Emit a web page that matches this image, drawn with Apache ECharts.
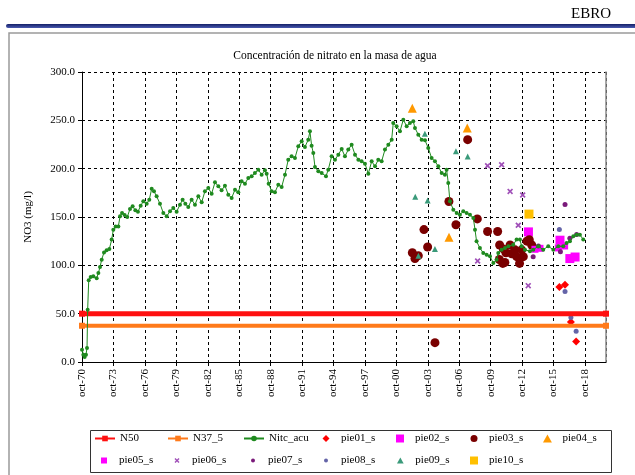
<!DOCTYPE html>
<html>
<head>
<meta charset="utf-8">
<title>Concentración de nitrato en la masa de agua</title>
<script src="https://cdn.jsdelivr.net/npm/echarts@6/dist/echarts.min.js"></script>
<style>
  html, body { margin: 0; padding: 0; background: #fff; }
  #chart { width: 635px; height: 475px; }
</style>
</head>
<body>
<div id="chart"></div>
<script>
// x en años decimales; el eje empieza en oct-70
const X0 = 1970.75;
const yTicks = [0, 50, 100, 150, 200, 250, 300];

// umbrales
const n50 = [[1970.75, 50], [2020.75, 50]];
const n37 = [[1970.75, 37.5], [2020.75, 37.5]];

// Nitc_acu (año, mg/l)
const nitcAcu = [
  [1970.75, 12.8], [1970.88, 7.6], [1971.0, 5.2], [1971.13, 7.6], [1971.23, 14.5],
  [1971.29, 54.1], [1971.39, 84.5], [1971.58, 87.9], [1971.83, 88.6], [1972.15, 86.6],
  [1972.31, 92], [1972.47, 98.3], [1972.63, 105.9], [1972.85, 113.4], [1973.1, 115.5],
  [1973.36, 116.9], [1973.58, 126.6], [1973.74, 136.9], [1973.96, 140.3], [1974.22, 140.3],
  [1974.38, 150.7], [1974.57, 154.1], [1974.82, 152.1], [1975.07, 150], [1975.33, 158.3],
  [1975.58, 161], [1975.84, 156.9], [1976.09, 155.5], [1976.35, 161.7], [1976.6, 166.2],
  [1976.92, 163.8], [1977.17, 167.9], [1977.4, 179.3], [1977.62, 176.6], [1977.87, 171.4],
  [1978.19, 163.8], [1978.51, 154.1], [1978.83, 150.7], [1979.15, 155.9], [1979.46, 159.3],
  [1979.78, 155.5], [1980.1, 162.8], [1980.35, 167.9], [1980.61, 163.8], [1980.89, 160.3],
  [1981.21, 167.9], [1981.53, 162.8], [1981.85, 171.4], [1982.17, 165.2], [1982.48, 176.6],
  [1982.8, 180], [1983.12, 174.1], [1983.44, 185.9], [1983.76, 181.7], [1984.07, 177.6],
  [1984.39, 182.4], [1984.71, 173.1], [1985.03, 169.7], [1985.35, 178.3], [1985.66, 175.5],
  [1985.98, 186.9], [1986.3, 184.5], [1986.62, 190.3], [1986.94, 192.1], [1987.25, 195.5],
  [1987.57, 199], [1987.89, 193.8], [1988.21, 198.3], [1988.37, 194.8], [1988.56, 184.5],
  [1988.85, 176.6], [1989.16, 175.5], [1989.48, 183.4], [1989.8, 181], [1990.12, 193.8],
  [1990.43, 209.3], [1990.75, 212.8], [1991.07, 211], [1991.39, 223.1], [1991.71, 228.3],
  [1992.02, 222.4], [1992.34, 230], [1992.5, 238.6], [1992.66, 223.8], [1992.82, 216.2],
  [1992.98, 201.7], [1993.3, 197.2], [1993.62, 195.5], [1994.03, 192.1], [1994.25, 199],
  [1994.57, 212.8], [1994.89, 209.3], [1995.21, 214.5], [1995.53, 220.3], [1995.84, 212.8],
  [1996.16, 219.7], [1996.48, 224.8], [1996.8, 214.5], [1997.12, 209.3], [1997.43, 207.6],
  [1997.75, 205.2], [1998.07, 194.8], [1998.39, 207.6], [1998.71, 202.4], [1999.02, 209.3],
  [1999.34, 207.6], [1999.66, 219.7], [1999.98, 224.8], [2000.3, 230], [2000.45, 247.2],
  [2000.77, 243.8], [2001.09, 238.6], [2001.41, 250.7], [2001.73, 243.8], [2002.04, 247.2],
  [2002.36, 249], [2002.52, 242.1], [2002.84, 235.2], [2003.16, 230], [2003.48, 229.3],
  [2003.79, 221.4], [2004.11, 211], [2004.43, 207.6], [2004.75, 202.4], [2005.07, 195.5],
  [2005.38, 193.8], [2005.54, 199], [2005.7, 185.2], [2005.86, 166.2], [2006.18, 157.6],
  [2006.5, 154.1], [2006.81, 152.4], [2007.13, 155.9], [2007.45, 154.1], [2007.77, 152.4],
  [2008.09, 149], [2008.25, 136.9], [2008.4, 124.8], [2008.72, 117.9], [2009.04, 112.8],
  [2009.36, 111], [2009.68, 109.3], [2010.0, 102.4], [2010.31, 105.9], [2010.47, 112.8],
  [2010.79, 116.2], [2011.11, 117.9], [2011.43, 119.7], [2011.9, 121.4], [2012.22, 126.6],
  [2012.54, 126.6], [2012.7, 119.7], [2013.02, 116.2], [2013.49, 114.5], [2013.81, 116.2],
  [2014.29, 119.7], [2014.76, 116.2], [2015.24, 119.7], [2015.72, 116.2], [2016.2, 119.7],
  [2016.67, 119.7], [2016.99, 123.1], [2017.31, 124.8], [2017.63, 130], [2017.94, 131.7],
  [2018.26, 131.7], [2018.58, 126.6]
];

// piezómetros
const pie01 = [[2016.3, 77.6], [2016.84, 80], [2017.4, 41.4], [2017.9, 21.3]];
const pie02 = [[2013.35, 134.6], [2016.36, 126], [2017.3, 107], [2017.8, 108.6]];
const pie03 = [
  [2002.27, 113], [2002.52, 107], [2002.84, 110], [2003.38, 137], [2003.73, 119],
  [2004.43, 20], [2005.76, 166], [2006.43, 142], [2007.55, 230], [2008.47, 148],
  [2009.45, 135], [2010.41, 135], [2010.6, 121], [2010.95, 117], [2011.2, 113],
  [2011.6, 121], [2011.75, 112], [2012.07, 116], [2012.23, 109], [2012.5, 102],
  [2012.7, 116], [2012.86, 109], [2013.43, 126.5], [2013.66, 121], [2010.9, 102],
  [2010.57, 106], [2011.1, 103], [2013.2, 125]
];
const pie04 = [[2002.27, 262.6], [2007.51, 242], [2005.77, 129]];
const pie05 = [[2013.97, 116.6], [2014.45, 117.6], [2016.2, 118], [2016.8, 120]];
const pie06 = [[2009.45, 203], [2010.79, 204], [2011.6, 176.5], [2012.8, 172.7], [2012.38, 141.5], [2008.5, 104.5], [2013.33, 79]];
const pie07 = [[2016.84, 163], [2014.3, 120], [2013.8, 109], [2017.3, 128], [2017.95, 132], [2016.4, 114]];
const pie08 = [[2016.3, 137], [2016.84, 73], [2017.4, 46], [2017.9, 31.7]];
const pie09 = [[2002.55, 171], [2003.73, 167], [2004.43, 117], [2006.43, 218], [2007.55, 212.5], [2003.47, 236], [2002.85, 110]];
const pie10 = [[2013.4, 153]];

const SERIF = '"Liberation Serif", "DejaVu Serif", serif';
const toX = arr => arr.map(p => [p[0] - X0, p[1]]);

// iconos
const SQUARE = 'path://M0,0H10V10H0Z';
const DIAMOND = 'path://M5,0L10,5L5,10L0,5Z';
const TRIANGLE = 'path://M5,0L10,9L0,9Z';
const XMARK = 'path://M0,2L2,0L5,3L8,0L10,2L7,5L10,8L8,10L5,7L2,10L0,8L3,5Z';

function scatter(name, data, symbol, size, color) {
  return {
    name: name, type: 'scatter', data: toX(data),
    symbol: symbol, symbolSize: size,
    itemStyle: { color: color, opacity: 1 }
  };
}

const chart = echarts.init(document.getElementById('chart'));

// leyenda: [nombre, columna, fila, icono, alto]
const legendItems = [
  ['N50', 0, 0, null, 7], ['N37_5', 1, 0, null, 7], ['Nitc_acu', 2, 0, null, 7],
  ['pie01_s', 3, 0, DIAMOND, 7], ['pie02_s', 4, 0, SQUARE, 8], ['pie03_s', 5, 0, 'circle', 7],
  ['pie04_s', 6, 0, TRIANGLE, 8],
  ['pie05_s', 0, 1, SQUARE, 6], ['pie06_s', 1, 1, XMARK, 5], ['pie07_s', 2, 1, 'circle', 4],
  ['pie08_s', 3, 1, 'circle', 4], ['pie09_s', 4, 1, TRIANGLE, 6], ['pie10_s', 5, 1, SQUARE, 8]
];
const colLeft = [94, 167, 243, 316, 390, 464, 537];
const rowTop = [433, 455];

const option = {
  backgroundColor: '#fff',
  animation: false,
  title: {
    text: 'Concentración de nitrato en la masa de agua',
    left: 330, top: 45, textAlign: 'center',
    textStyle: { fontFamily: SERIF, fontSize: 11.5, fontWeight: 'normal', color: '#000' }
  },
  graphic: [
    { type: 'text', right: 24, top: 7,
      style: { text: 'EBRO', font: '15px ' + SERIF, fill: '#000' } },
    { type: 'rect', shape: { x: 6, y: 24, width: 640, height: 4, r: 2 },
      style: { fill: new echarts.graphic.LinearGradient(0, 0, 0, 1,
        [{ offset: 0, color: '#141f66' }, { offset: 1, color: '#4a5ab0' }]) } },
    { type: 'rect', shape: { x: 9, y: 33, width: 700, height: 500 },
      style: { fill: 'none', stroke: '#9a9a9a', lineWidth: 1.5 } },
    { type: 'rect', shape: { x: 90.5, y: 430.5, width: 521, height: 42 },
      style: { fill: 'none', stroke: '#333', lineWidth: 1 } }
  ],
  legend: legendItems.map(it => ({
    data: [it[3] ? { name: it[0], icon: it[3] } : { name: it[0] }],
    left: it[3] ? colLeft[it[1]] + 10 - it[4] / 2 : colLeft[it[1]],
    top: rowTop[it[2]],
    itemWidth: 20, itemHeight: it[4], padding: 0,
    textStyle: { fontFamily: SERIF, fontSize: 11, color: '#000' }
  })),
  grid: { left: 82, right: 29, top: 72, bottom: 113, containLabel: false },
  xAxis: {
    type: 'value', min: 0, max: 50, interval: 3,
    axisLine: { lineStyle: { color: '#000', width: 1 } },
    axisTick: { length: 4, lineStyle: { color: '#000' } },
    axisLabel: {
      rotate: 90, margin: 7, showMaxLabel: false,
      fontFamily: SERIF, fontSize: 11, color: '#000',
      formatter: v => (v % 3 === 0 && v <= 48) ? 'oct-' + String((70 + v) % 100).padStart(2, '0') : ''
    },
    splitLine: { show: true, lineStyle: { color: '#000', type: [3, 3], width: 1 } }
  },
  yAxis: [{
    type: 'value', min: yTicks[0], max: yTicks[yTicks.length - 1], interval: 50,
    name: 'NO3 (mg/l)', nameLocation: 'middle', nameGap: 48,
    nameTextStyle: { fontFamily: SERIF, fontSize: 11, color: '#000' },
    axisLine: { show: true, lineStyle: { color: '#000', width: 1 } },
    axisTick: { show: true, length: 4, lineStyle: { color: '#000' } },
    axisLabel: { margin: 7, fontFamily: SERIF, fontSize: 11, color: '#000', formatter: v => v.toFixed(1) },
    splitLine: { show: true, lineStyle: { color: '#000', type: [3, 3], width: 1 } }
  }, {
    type: 'value', min: 0, max: 300, position: 'right',
    axisLine: { show: true, lineStyle: { color: '#8a8a8a', width: 1.5 } },
    axisTick: { show: false }, axisLabel: { show: false }, splitLine: { show: false }
  }],
  series: [
    { name: 'N50', type: 'line', data: toX(n50), symbol: 'rect', symbolSize: 6,
      lineStyle: { color: '#ff1010', width: 5 }, itemStyle: { color: '#ff1010' }, z: 3 },
    { name: 'N37_5', type: 'line', data: toX(n37), symbol: 'rect', symbolSize: 6,
      lineStyle: { color: '#ff7a1a', width: 4 }, itemStyle: { color: '#ff7a1a' }, z: 3 },
    { name: 'Nitc_acu', type: 'line', data: toX(nitcAcu), symbol: 'circle', symbolSize: 4,
      showAllSymbol: true,
      lineStyle: { color: '#1f8a1f', width: 1 }, itemStyle: { color: '#1f8a1f' }, z: 4 },
    scatter('pie01_s', pie01, 'diamond', 8, '#ff0000'),
    scatter('pie02_s', pie02, 'rect', 9, '#ff00ff'),
    scatter('pie03_s', pie03, 'circle', 9, '#7a0000'),
    scatter('pie04_s', pie04, 'triangle', 9, '#ff9900'),
    scatter('pie05_s', pie05, 'rect', 7, '#ff00ff'),
    scatter('pie06_s', pie06, XMARK, 6, '#a050b8'),
    scatter('pie07_s', pie07, 'circle', 5, '#7a1a7a'),
    scatter('pie08_s', pie08, 'circle', 5, '#6464a8'),
    scatter('pie09_s', pie09, 'triangle', 6, '#3a9a7a'),
    scatter('pie10_s', pie10, 'rect', 9, '#ffc000')
  ]
};

chart.setOption(option);
</script>
</body>
</html>
